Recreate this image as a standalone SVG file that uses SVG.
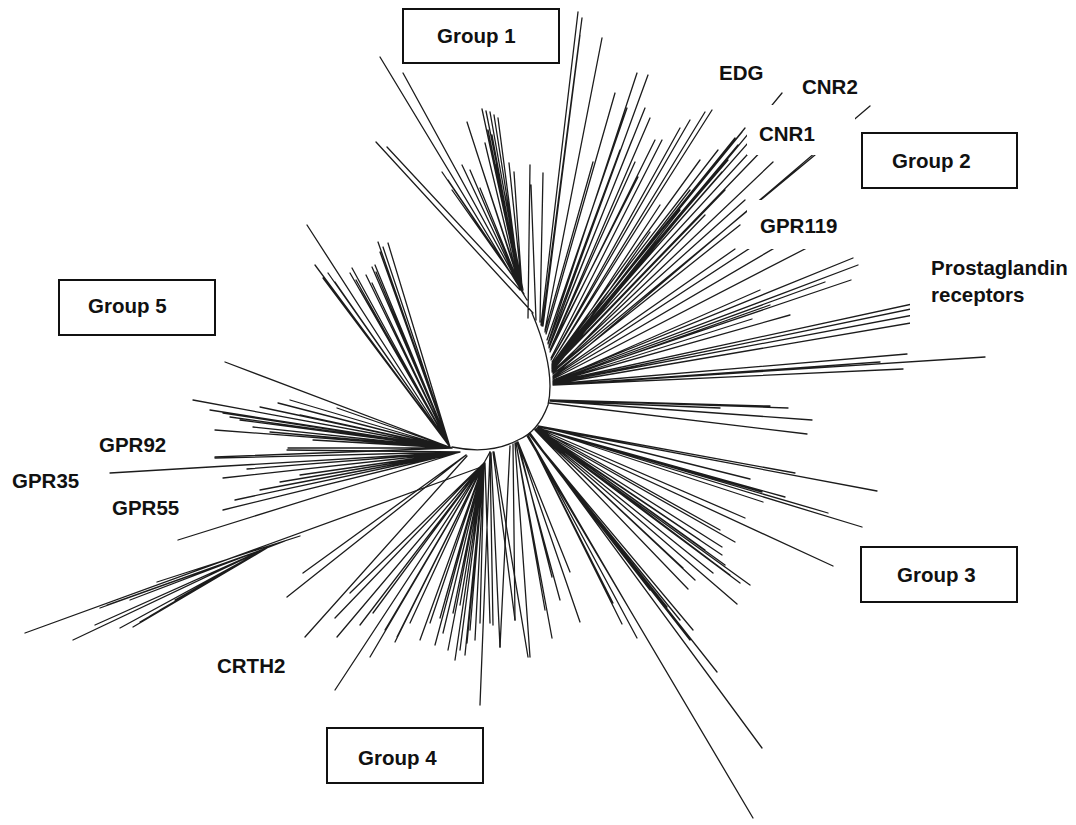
<svg xmlns="http://www.w3.org/2000/svg" width="1076" height="825" viewBox="0 0 1076 825">
<style>
.br{fill:none;stroke:#1c1c1c;stroke-width:1.3;stroke-linecap:round}
.mask{fill:#fff;stroke:none}
.box{fill:#fff;stroke:#111;stroke-width:2}
.t{font-family:"Liberation Sans",Arial,Helvetica,sans-serif;font-weight:bold;font-size:20.5px;fill:#111}
</style>
<rect x="0" y="0" width="1076" height="825" fill="#fff"/>
<g id="tree">
<path id="backbone" class="br" d="M532 313 Q556 370 548 405 Q538 432 518 440 Q490 455 452 447 M490 452 L484 463"/>
<path id="clade-group1" class="br" d="
M376 142 L533 313 M387 147 L520 290
M527 300 L380 57 M524 294 L403 73
M520 286 L467 122 M520 286 L482 109 M521 286 L486 111 M521 286 L490 112 M521 287 L494 115 M520 286 L498 118
M519 285 L485 143 M520 286 L488 130 M519 285 L442 172 M519 285 L448 180 M519 285 L452 190
M519 285 L462 165 M519 285 L470 170 M520 286 L480 188 M521 287 L496 165 M522 288 L509 163 M522 288 L514 172
M523 290 L505 195 M521 287 L476 150 M520 286 L492 135
M528 318 L530 165 M540 322 L543 173 M536 320 L531 185
M541 325 L578 12 M542 326 L582 18 M543 326 L580 35 M545 330 L602 38 M546 334 L615 93 M545 332 L593 162
M547 340 L627 108 M548 343 L637 73 M549 346 L648 75 M549 347 L645 108 M550 350 L650 118
M550 350 L638 177 M550 350 L635 162 M549 348 L632 140 M550 352 L655 140 M548 344 L620 150"/>
<path id="clade-group2" class="br" d="
M551 358 L662 140 M551 360 L680 128 M551 360 L690 120 M552 362 L705 112 M552 362 L712 110
M552 364 L700 160 M552 364 L718 150 M552 365 L735 138 M552 365 L742 132 M552 365 L745 128 M552 366 L738 145
M552 366 L770 118 M552 367 L770 130 M552 368 L770 142 M553 370 L782 93 M553 371 L773 162 M553 372 L815 155
M553 376 L870 106 M552 368 L712 178 M552 369 L725 190 M552 368 L690 190 M553 372 L745 200
M553 374 L740 225 M553 373 L705 215 M552 371 L680 210 M552 370 L660 205 M552 372 L650 232
M553 376 L735 249 M553 377 L770 235 M553 378 L795 236 M553 379 L830 236 M552 366 L728 160 M552 367 L722 172"/>
<path id="clade-prostaglandin" class="br" d="
M553 380 L853 258 M553 380 L858 265 M553 381 L825 282 M553 381 L851 280 M553 382 L752 319
M553 382 L940 298 M553 383 L940 303 M553 383 L940 310 M553 384 L940 318 M553 384 L907 354
M553 385 L985 357 M553 385 L903 369 M553 385 L880 362 M553 382 L790 315 M553 382 L770 305 M553 381 L760 290"/>
<path id="clade-group3" class="br" d="
M550 400 L788 408 M550 401 L812 420 M549 403 L807 434 M550 400 L770 406 M550 401 L720 408
M538 426 L795 473 M538 426 L750 479 M538 427 L877 491 M537 428 L828 513 M537 428 L862 527
M537 428 L745 518 M536 429 L735 542 M536 429 L833 566 M536 429 L722 547 M536 430 L722 555
M535 430 L750 585 M535 430 L737 604 M535 430 L688 589 M535 430 L683 568 M535 430 L713 573
M535 430 L740 583 M537 428 L762 492 M537 428 L763 502 M537 428 L785 497 M536 429 L700 540
M536 429 L710 560 M535 430 L695 580 M536 429 L725 565 M536 430 L730 575 M537 428 L720 530 M536 429 L705 550
M528 435 L622 624 M528 435 L637 638 M529 434 L693 630 M529 434 L717 672 M530 433 L762 748
M527 436 L753 818 M528 435 L613 603 M529 434 L667 607 M529 434 L680 620 M529 434 L650 590
M529 434 L690 640 M528 435 L630 610
M518 442 L570 572 M518 442 L552 577 M518 442 L580 622 M516 443 L552 638 M515 443 L530 657
M513 444 L515 620 M510 446 L500 647 M517 442 L560 600 M516 443 L545 610"/>
<path id="clade-group4" class="br" d="
M490 452 L480 705 M484 463 L335 690 M484 463 L370 657 M484 463 L395 642
M466 455 L287 597 M466 455 L303 573 M467 456 L305 637 M484 463 L337 637 M484 463 L350 593
M484 463 L335 618 M484 463 L430 623 M484 463 L443 633 M484 463 L448 650 M484 463 L460 650
M484 463 L453 613 M484 463 L467 643 M484 463 L480 623 M485 463 L490 623 M484 463 L373 613
M484 463 L410 623 M484 463 L397 637 M484 463 L420 640 M484 463 L435 645 M484 463 L455 660
M484 463 L465 655 M484 463 L475 640 M484 463 L445 600 M484 463 L460 605 M484 463 L385 630
M484 463 L360 625 M484 463 L470 630 M484 463 L440 618
M490 454 L493 625 M491 453 L500 647 M493 452 L515 620 M494 452 L528 657"/>
<path id="clade-group5" class="br" d="
M450 447 L307 225 M450 447 L315 265 M450 447 L323 278 M450 447 L328 273 M450 447 L335 282
M450 447 L352 268 M450 447 L350 273 M450 447 L356 280 M450 447 L372 267 M450 447 L375 265
M450 447 L372 283 M450 447 L378 242 M450 447 L388 243 M450 447 L383 247 M450 447 L380 252
M450 447 L360 290 M450 447 L366 275 M450 447 L376 272
M452 448 L225 362 M452 448 L193 400 M452 448 L210 410 M452 448 L215 430 M452 448 L260 407
M452 448 L278 403 M452 448 L290 400 M452 448 L253 427 M452 448 L288 448 M452 448 L215 457
M452 448 L223 413 M452 448 L230 417 M452 448 L313 440 M452 448 L337 408 M452 448 L240 420
M452 448 L300 415 M452 448 L270 432"/>
<path id="clade-gpr" class="br" d="
M460 452 L110 473 M460 452 L287 450 M460 452 L215 458 M460 452 L247 469 M460 452 L223 478
M460 452 L235 500 M460 452 L223 510 M460 452 L178 540 M460 452 L260 490 M460 452 L280 482 M460 452 L300 475
M484 466 L25 633 M267 548 L73 640 M267 548 L100 608 M267 548 L107 605 M267 548 L133 627
M267 548 L140 622 M267 548 L150 616 M267 548 L120 628 M267 548 L95 625 M300 536 L157 582
M285 541 L130 600 M267 548 L160 610 M267 548 L175 600"/>
</g>
<g id="masks">
<rect class="mask" x="747" y="105" width="108" height="50"/>
<rect class="mask" x="747" y="200" width="103" height="49"/>
<rect class="mask" x="910" y="250" width="166" height="85"/>
</g>
<g id="group1"><rect class="box" x="403" y="9" width="156" height="54"/><text class="t" x="437" y="43">Group 1</text></g>
<g id="group2"><rect class="box" x="862" y="133" width="155" height="55"/><text class="t" x="892" y="168">Group 2</text></g>
<g id="group3"><rect class="box" x="861" y="547" width="156" height="55"/><text class="t" x="897" y="582">Group 3</text></g>
<g id="group4"><rect class="box" x="327" y="728" width="156" height="55"/><text class="t" x="358" y="765">Group 4</text></g>
<g id="group5"><rect class="box" x="59" y="280" width="156" height="55"/><text class="t" x="88" y="313">Group 5</text></g>
<g id="label-edg"><text class="t" x="719" y="80">EDG</text></g>
<g id="label-cnr2"><text class="t" x="802" y="94">CNR2</text></g>
<g id="label-cnr1"><text class="t" x="759" y="141">CNR1</text></g>
<g id="label-gpr119"><text class="t" x="760" y="233">GPR119</text></g>
<g id="label-prostaglandin"><text class="t" x="931" y="275">Prostaglandin</text><text class="t" x="931" y="302">receptors</text></g>
<g id="label-gpr92"><text class="t" x="99" y="452">GPR92</text></g>
<g id="label-gpr35"><text class="t" x="12" y="488">GPR35</text></g>
<g id="label-gpr55"><text class="t" x="112" y="515">GPR55</text></g>
<g id="label-crth2"><text class="t" x="217" y="673">CRTH2</text></g>
</svg>
